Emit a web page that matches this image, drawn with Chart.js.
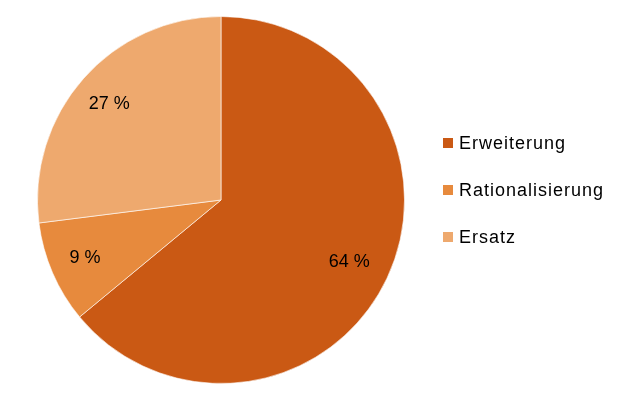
<!DOCTYPE html>
<html>
<head>
<meta charset="utf-8">
<script src="https://cdn.jsdelivr.net/npm/chart.js@4/dist/chart.umd.min.js"></script>
<style>
html,body{margin:0;padding:0;background:#fff;}
#wrap{position:relative;width:635px;height:401px;}
</style>
</head>
<body>
<div id="wrap"><canvas id="c" width="635" height="401"></canvas></div>
<script>
const categories = ["Erweiterung", "Rationalisierung", "Ersatz"];
const values = [64, 9, 27];
const valueLabels = ["64 %", "9 %", "27 %"];
const colors = ["#CA5914", "#E78A3D", "#EEA96E"];

const FONT = '"Liberation Sans", Arial, sans-serif';

const sliceLabels = {
  id: 'sliceLabels',
  afterDatasetsDraw(chart) {
    const ctx = chart.ctx;
    const meta = chart.getDatasetMeta(0);
    ctx.save();
    ctx.font = '18px ' + FONT;
    ctx.fillStyle = '#000';
    ctx.textAlign = 'center';
    ctx.textBaseline = 'middle';
    meta.data.forEach((arc, i) => {
      const p = arc.getProps(['x','y','startAngle','endAngle','outerRadius'], true);
      const mid = (p.startAngle + p.endAngle) / 2;
      const r = p.outerRadius * 0.79;
      ctx.fillText(valueLabels[i], p.x + Math.cos(mid) * r - 3, p.y + Math.sin(mid) * r);
    });
    ctx.restore();
  }
};

const sideLegend = {
  id: 'sideLegend',
  afterDraw(chart) {
    const ctx = chart.ctx;
    ctx.save();
    ctx.font = '18px ' + FONT;
    if ('letterSpacing' in ctx) ctx.letterSpacing = '1px';
    ctx.textAlign = 'left';
    ctx.textBaseline = 'middle';
    categories.forEach((name, i) => {
      const y = 143 + i * 47;
      ctx.fillStyle = colors[i];
      ctx.fillRect(443, y - 5, 10, 10);
      ctx.fillStyle = '#000';
      ctx.fillText(name, 459, y + 1);
    });
    ctx.restore();
  }
};

new Chart(document.getElementById('c'), {
  type: 'pie',
  data: {
    labels: categories,
    datasets: [{
      data: values,
      backgroundColor: colors,
      borderColor: 'rgba(255,255,255,0.6)',
      borderWidth: 1
    }]
  },
  options: {
    responsive: false,
    animation: false,
    devicePixelRatio: 1,
    layout: { padding: { left: 37, right: 230, top: 16, bottom: 17 } },
    plugins: {
      legend: { display: false },
      tooltip: { enabled: false }
    }
  },
  plugins: [sliceLabels, sideLegend]
});
</script>
</body>
</html>
